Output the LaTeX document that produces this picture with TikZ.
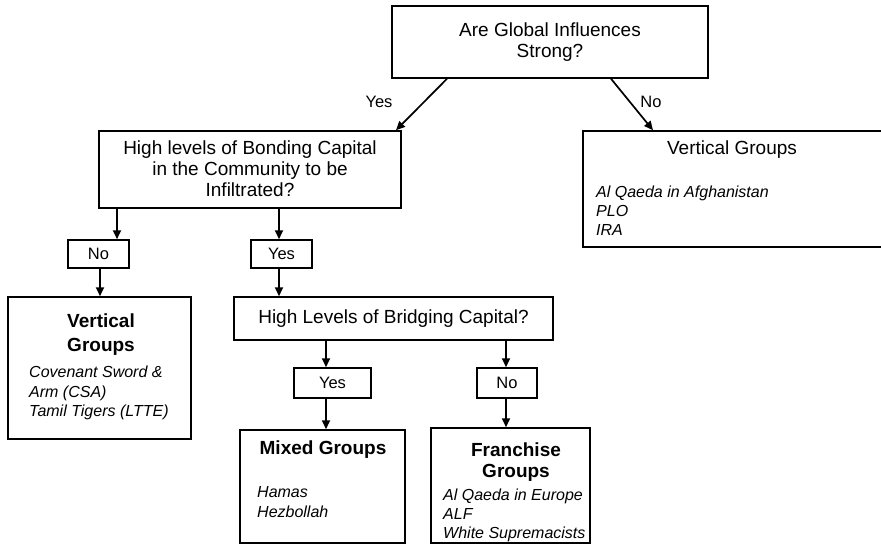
\documentclass[tikz,border=0pt]{standalone}
\usepackage{fontspec}
\setmainfont{Liberation Sans}
\usetikzlibrary{arrows.meta}
\begin{document}
\begin{tikzpicture}[x=1pt,y=-1pt,
  box/.style={draw,line width=1.5pt,inner sep=0pt,fill=none},
  arr/.style={line width=1.7pt,-{Triangle[length=9pt,width=8pt]}},
  big/.style={font=\fontsize{19}{21}\selectfont,inner sep=0pt,align=center},
  bigb/.style={font=\fontsize{19}{22}\selectfont\bfseries,inner sep=0pt,align=center},
  ital/.style={font=\fontsize{16}{18.7}\selectfont\itshape,inner sep=0pt,align=left,anchor=north west},
  lab/.style={font=\fontsize{16.5}{19}\selectfont,inner sep=0pt}]
\useasboundingbox (0,0) rectangle (881,546);
% boxes
\node[box,minimum width=316pt,minimum height=72pt] (q1) at (550,42) {};
\node[box,minimum width=302pt,minimum height=77pt] (q2) at (250,169.5) {};
\node[box,minimum width=305pt,minimum height=116pt] (v1) at (735.5,189) {};
\node[box,minimum width=61pt,minimum height=28pt] (n1) at (98.5,254) {};
\node[box,minimum width=61pt,minimum height=28pt] (y1) at (281.5,254) {};
\node[box,minimum width=183pt,minimum height=142pt] (v2) at (99.5,368) {};
\node[box,minimum width=319pt,minimum height=43pt] (q3) at (393.5,318.5) {};
\node[box,minimum width=77pt,minimum height=30pt] (y2) at (332.5,383) {};
\node[box,minimum width=60pt,minimum height=30pt] (n2) at (507,383) {};
\node[box,minimum width=165pt,minimum height=113pt] (m) at (322.5,486.5) {};
\node[box,minimum width=159pt,minimum height=115pt] (f) at (510.5,485.5) {};
% texts
\node[big] (t1) at (550,42.5) {Are Global Influences\\Strong?};
\node[big] (t2) at (250,169) {High levels of Bonding Capital\\in the Community to be\\Infiltrated?};
\node[big] (t3) at (732,150) {Vertical Groups};
\node[ital] (i3) at (596,186) {Al Qaeda in Afghanistan\\PLO\\IRA};
\node[lab] (tn1) at (98.5,254) {No};
\node[lab] (ty1) at (281.5,254) {Yes};
\node[bigb,font=\fontsize{19}{24}\selectfont\bfseries] (t4) at (101,335) {Vertical\\Groups};
\node[ital,font=\fontsize{16}{19.5}\selectfont\itshape] (i4) at (29,366) {Covenant Sword \&\\Arm (CSA)\\Tamil Tigers (LTTE)};
\node[big] (t5) at (393.5,319) {High Levels of Bridging Capital?};
\node[lab] (ty2) at (332.5,383) {Yes};
\node[lab] (tn2) at (507,383) {No};
\node[bigb] (t6) at (323,450) {Mixed Groups};
\node[ital,font=\fontsize{16}{20}\selectfont\itshape] (i6) at (257,486) {Hamas\\Hezbollah};
\node[bigb,font=\fontsize{19}{21}\selectfont\bfseries] (t7) at (516,462.5) {Franchise\\Groups};
\node[ital] (i7) at (443,489) {Al Qaeda in Europe\\ALF\\White Supremacists};
\node[lab] (lyes) at (379,102) {Yes};
\node[lab] (lno) at (651,102) {No};
% x positions for connectors
\coordinate (xa) at (447,0);
\coordinate (xb) at (396,0);
\coordinate (xc) at (611,0);
\coordinate (xd) at (653,0);
\coordinate (xe) at (117,0);
\coordinate (xf) at (100,0);
\coordinate (xg) at (279,0);
\coordinate (xh) at (326,0);
\coordinate (xi) at (506,0);
% connectors
\draw[arr] (xa |- q1.south) -- (xb |- q2.north);
\draw[arr] (xc |- q1.south) -- (xd |- v1.north);
\draw[arr] (xe |- q2.south) -- (xe |- n1.north);
\draw[arr] (xf |- n1.south) -- (xf |- v2.north);
\draw[arr] (xg |- q2.south) -- (xg |- y1.north);
\draw[arr] (xg |- y1.south) -- (xg |- q3.north);
\draw[arr] (xh |- q3.south) -- (xh |- y2.north);
\draw[arr] (xh |- y2.south) -- (xh |- m.north);
\draw[arr] (xi |- q3.south) -- (xi |- n2.north);
\draw[arr] (xi |- n2.south) -- (xi |- f.north);
\end{tikzpicture}
\end{document}
